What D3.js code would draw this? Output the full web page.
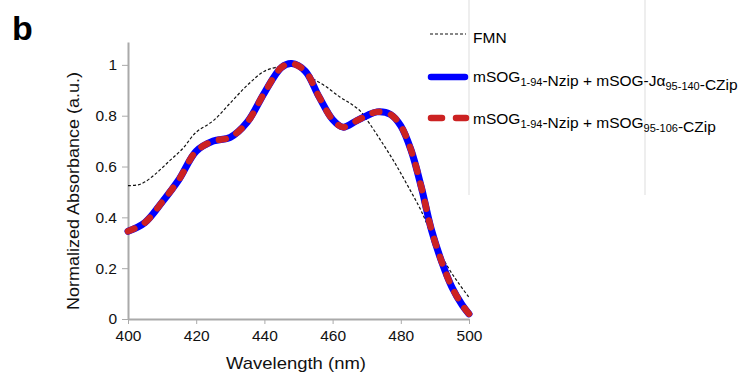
<!DOCTYPE html>
<html>
<head>
<meta charset="utf-8">
<script src="https://cdn.jsdelivr.net/npm/d3@7"></script>
<style>
  body { margin: 0; background: #fff; }
  svg { font-family: "Liberation Sans", Arial, sans-serif; }
  .axis path, .axis line { stroke: #aaa; }
  .axis text { font-size: 15.5px; fill: #111; }
</style>
</head>
<body>
<div id="chart"></div>
<script>
// wavelengths (nm) and normalized absorbance
const fmnWl  = [400, 403, 405, 408, 412, 416, 420, 425, 430, 435, 440, 445, 448, 451, 454, 458, 462, 465, 468, 470, 474, 478, 482, 486, 490, 494, 497, 500];
const fmnAbs = [0.525, 0.528, 0.54, 0.57, 0.62, 0.67, 0.735, 0.78, 0.85, 0.92, 0.975, 0.995, 1.0, 0.98, 0.948, 0.915, 0.875, 0.85, 0.82, 0.785, 0.705, 0.62, 0.525, 0.425, 0.30, 0.20, 0.14, 0.085];

const sogWl  = [400, 405, 410, 415, 420, 425, 430, 435, 440, 445, 448, 452, 456, 460, 463, 467, 470, 473, 477, 480, 483, 486, 489, 492, 495, 498, 500];
const jaAbs  = [0.345, 0.38, 0.46, 0.55, 0.66, 0.70, 0.715, 0.775, 0.89, 0.99, 1.005, 0.975, 0.875, 0.785, 0.755, 0.78, 0.80, 0.815, 0.805, 0.76, 0.665, 0.52, 0.35, 0.225, 0.125, 0.055, 0.02];
const s106Abs = [0.345, 0.38, 0.46, 0.55, 0.66, 0.70, 0.715, 0.775, 0.89, 0.99, 1.005, 0.975, 0.875, 0.785, 0.755, 0.78, 0.80, 0.815, 0.805, 0.76, 0.665, 0.52, 0.35, 0.225, 0.125, 0.055, 0.02];

const xTicks = [400, 420, 440, 460, 480, 500];
const yTicks = [0, 0.2, 0.4, 0.6, 0.8, 1];

const W = 742, H = 376;
const margin = {top: 42, right: 273, bottom: 57, left: 128};
const width = W - margin.left - margin.right;
const height = H - margin.top - margin.bottom;

const svg = d3.select("#chart").append("svg")
    .attr("width", W)
    .attr("height", H);

// leftover light grey rules in the legend area
[469, 645].forEach(x => {
    svg.append("line")
        .attr("x1", x).attr("x2", x)
        .attr("y1", 0).attr("y2", 195)
        .attr("stroke", "#ddd").attr("stroke-width", 1);
});

const g = svg.append("g")
    .attr("transform", "translate(" + margin.left + "," + margin.top + ")");

const x = d3.scaleLinear().domain([400, 500]).range([0, width]);
const y = d3.scaleLinear().domain([0, 1.09]).range([height, 0]);

// axes
g.append("g")
    .attr("class", "axis")
    .attr("transform", "translate(0," + height + ")")
    .call(d3.axisBottom(x).tickValues(xTicks).tickSize(5).tickSizeOuter(0).tickPadding(6))
    .call(a => a.select(".domain").attr("stroke-width", 2));

g.append("g")
    .attr("class", "axis")
    .call(d3.axisLeft(y).tickValues(yTicks).tickFormat(d3.format("~g")).tickSize(6).tickSizeOuter(0).tickPadding(5))
    .call(a => a.select(".domain").attr("stroke-width", 2));

const line = d3.line()
    .x(d => x(d[0]))
    .y(d => y(d[1]))
    .curve(d3.curveCatmullRom.alpha(0.5));

const fmn = fmnWl.map((w, i) => [w, fmnAbs[i]]);
const ja = sogWl.map((w, i) => [w, jaAbs[i]]);
const s106 = sogWl.map((w, i) => [w, s106Abs[i]]);

g.append("path").datum(fmn)
    .attr("d", line)
    .attr("fill", "none")
    .attr("stroke", "#111")
    .attr("stroke-width", 1.2)
    .attr("stroke-dasharray", "3,2");

g.append("path").datum(ja)
    .attr("d", line)
    .attr("fill", "none")
    .attr("stroke", "#0000ff")
    .attr("stroke-width", 7)
    .attr("stroke-linecap", "round");

g.append("path").datum(s106)
    .attr("d", line)
    .attr("fill", "none")
    .attr("stroke", "#cc2222")
    .attr("stroke-width", 6.5)
    .attr("stroke-linecap", "round")
    .attr("stroke-dasharray", "7,12");

// axis titles (the original figure is a bit stretched horizontally)
svg.append("text")
    .attr("x", 226)
    .attr("y", 369)
    .attr("textLength", 140)
    .attr("lengthAdjust", "spacingAndGlyphs")
    .style("font-size", "17px")
    .attr("fill", "#111")
    .text("Wavelength (nm)");

svg.append("text")
    .attr("transform", "translate(79,310) rotate(-90)")
    .attr("textLength", 238)
    .attr("lengthAdjust", "spacingAndGlyphs")
    .style("font-size", "17px")
    .attr("fill", "#111")
    .text("Normalized Absorbance (a.u.)");

// panel letter
svg.append("text")
    .attr("x", 12).attr("y", 40)
    .style("font-size", "34px")
    .style("font-weight", "bold")
    .text("b");

// legend
const legend = svg.append("g").style("font-size", "15.5px");

legend.append("line")
    .attr("x1", 430).attr("x2", 466).attr("y1", 34).attr("y2", 34)
    .attr("stroke", "#111").attr("stroke-width", 1.2).attr("stroke-dasharray", "3,2");
legend.append("text").attr("x", 473).attr("y", 43).text("FMN");

legend.append("line")
    .attr("x1", 431).attr("x2", 465).attr("y1", 77).attr("y2", 77)
    .attr("stroke", "#0000ff").attr("stroke-width", 6.5).attr("stroke-linecap", "round");

legend.append("line")
    .attr("x1", 431).attr("x2", 466).attr("y1", 118).attr("y2", 118)
    .attr("stroke", "#cc2222").attr("stroke-width", 6.5).attr("stroke-linecap", "round")
    .attr("stroke-dasharray", "11,14");

function labelWithSubs(parent, xPos, yPos, parts) {
    const t = parent.append("text").attr("x", xPos).attr("y", yPos);
    parts.forEach(p => {
        if (p.sub) {
            t.append("tspan").attr("dy", 4).style("font-size", "11px").text(p.t);
            t.append("tspan").attr("dy", -4).text("");
        } else {
            t.append("tspan").text(p.t);
        }
    });
}

labelWithSubs(legend, 473, 82, [
    {t: "mSOG"}, {t: "1-94", sub: true}, {t: "-Nzip + mSOG-J\u03b1"},
    {t: "95-140", sub: true}, {t: "-CZip"}
]);
labelWithSubs(legend, 473, 124, [
    {t: "mSOG"}, {t: "1-94", sub: true}, {t: "-Nzip + mSOG"},
    {t: "95-106", sub: true}, {t: "-CZip"}
]);
</script>
</body>
</html>
